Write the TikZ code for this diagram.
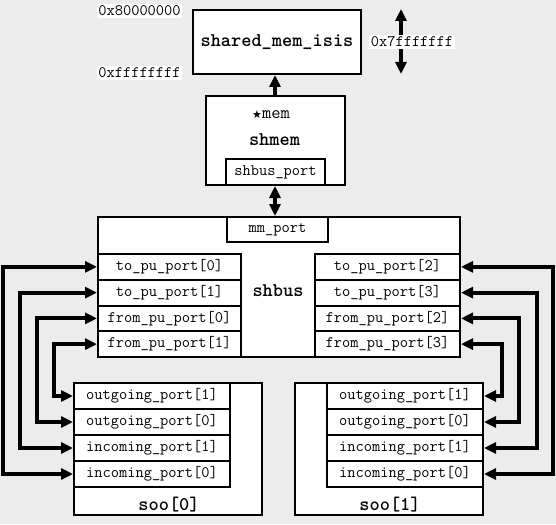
\documentclass[tikz,border=0pt]{standalone}
\usepackage{fontspec}
\newfontfamily\symfont{DejaVu Sans}
\usetikzlibrary{arrows.meta}
\definecolor{bgcol}{RGB}{236,236,236}
\tikzset{
  box/.style={draw, line width=2pt, fill=white, inner sep=0pt, anchor=north west},
  port/.style={box, font=\ttfamily\fontsize{16}{16}\selectfont},
  title/.style={font=\ttfamily\bfseries\fontsize{19.4}{19.4}\selectfont, inner sep=0pt},
  addr/.style={fill=white, inner sep=1.5pt, font=\ttfamily\fontsize{16}{16}\selectfont},
  tip/.tip={Triangle[length=12pt,width=11pt]},
  conn/.style={line width=4pt, tip-tip},
  upconn/.style={line width=4pt, -tip},
}
\begin{document}
\begin{tikzpicture}[x=1pt,y=-1pt]
\fill[bgcol] (0,0) rectangle (556,524);
\useasboundingbox (0,0) rectangle (556,524);

% shared_mem_isis
\node[box, minimum width=168pt, minimum height=64pt] (isis) at (192,9) {};
\node[title] (isist) at (isis.center) {shared\_mem\_isis};
\node[addr] (a8) at (139.5,11) {0x80000000};
\node[addr] (aff) at (139.5,73) {0xffffffff};
\coordinate (rtop) at (401,9);
\coordinate (rbot) at (401,74);
\draw[conn] (rtop) -- (rbot);
\node[addr] (a7f) at (412,42) {0x7fffffff};

% shmem
\node[box, minimum width=139pt, minimum height=89pt] (shmem) at (205,95) {};
\node (memp) at (271,115) {{\symfont\fontsize{11}{11}\selectfont ★}{\ttfamily\fontsize{18}{18}\selectfont mem}};
\node[title] (shmemt) at (274.5,140) {shmem};
\node[port, minimum width=99pt, minimum height=26pt] (sbp) at (225,158) {shbus\_port};
\draw[upconn] (275,95) -- (isis.south -| 275,0);

% shbus
\node[box, minimum width=362pt, minimum height=140pt] (shbus) at (97,216) {};
\node[port, minimum width=101pt, minimum height=25pt] (mm) at (226,216) {mm\_port};
\draw[conn] (sbp.south -| 275,0) -- (shbus.north -| 275,0);
\node[title] (shbust) at (278,291) {shbus};

\node[port, minimum width=143pt, minimum height=25.75pt] (t0) at (97,253) {to\_pu\_port[0]};
\node[port, minimum width=143pt, minimum height=25.75pt] (t1) at (97,278.75) {to\_pu\_port[1]};
\node[port, minimum width=143pt, minimum height=25.75pt] (f0) at (97,304.5) {from\_pu\_port[0]};
\node[port, minimum width=143pt, minimum height=25.75pt] (f1) at (97,330.25) {from\_pu\_port[1]};

\node[port, minimum width=145pt, minimum height=25.75pt] (t2) at (314,253) {to\_pu\_port[2]};
\node[port, minimum width=145pt, minimum height=25.75pt] (t3) at (314,278.75) {to\_pu\_port[3]};
\node[port, minimum width=145pt, minimum height=25.75pt] (f2) at (314,304.5) {from\_pu\_port[2]};
\node[port, minimum width=145pt, minimum height=25.75pt] (f3) at (314,330.25) {from\_pu\_port[3]};

% soo[0]
\node[box, minimum width=188pt, minimum height=132pt] (soo0) at (73,382) {};
\node[port, minimum width=156pt, minimum height=26pt] (ao1) at (73,382) {outgoing\_port[1]};
\node[port, minimum width=156pt, minimum height=26pt] (ao0) at (73,408) {outgoing\_port[0]};
\node[port, minimum width=156pt, minimum height=26pt] (ai1) at (73,434) {incoming\_port[1]};
\node[port, minimum width=156pt, minimum height=26pt] (ai0) at (73,460) {incoming\_port[0]};
\node[title] (soo0t) at (169,505) {soo[0]};

% soo[1]
\node[box, minimum width=188pt, minimum height=132pt] (soo1) at (294,382) {};
\node[port, minimum width=156pt, minimum height=26pt] (bo1) at (326,382) {outgoing\_port[1]};
\node[port, minimum width=156pt, minimum height=26pt] (bo0) at (326,408) {outgoing\_port[0]};
\node[port, minimum width=156pt, minimum height=26pt] (bi1) at (326,434) {incoming\_port[1]};
\node[port, minimum width=156pt, minimum height=26pt] (bi0) at (326,460) {incoming\_port[0]};
\node[title] (soo1t) at (390,505) {soo[1]};

% left connectors
\draw[conn] (t0.west) -- (t0.west -| 3,0) |- (ai0.west);
\draw[conn] (t1.west) -- (t1.west -| 20,0) |- (ai1.west);
\draw[conn] (f0.west) -- (f0.west -| 37,0) |- (ao0.west);
\draw[conn] (f1.west) -- (f1.west -| 54,0) |- (ao1.west);

% right connectors
\draw[conn] (t2.east) -- (t2.east -| 553,0) |- (bi0.east);
\draw[conn] (t3.east) -- (t3.east -| 537,0) |- (bi1.east);
\draw[conn] (f2.east) -- (f2.east -| 519,0) |- (bo0.east);
\draw[conn] (f3.east) -- (f3.east -| 502,0) |- (bo1.east);
\end{tikzpicture}
\end{document}
